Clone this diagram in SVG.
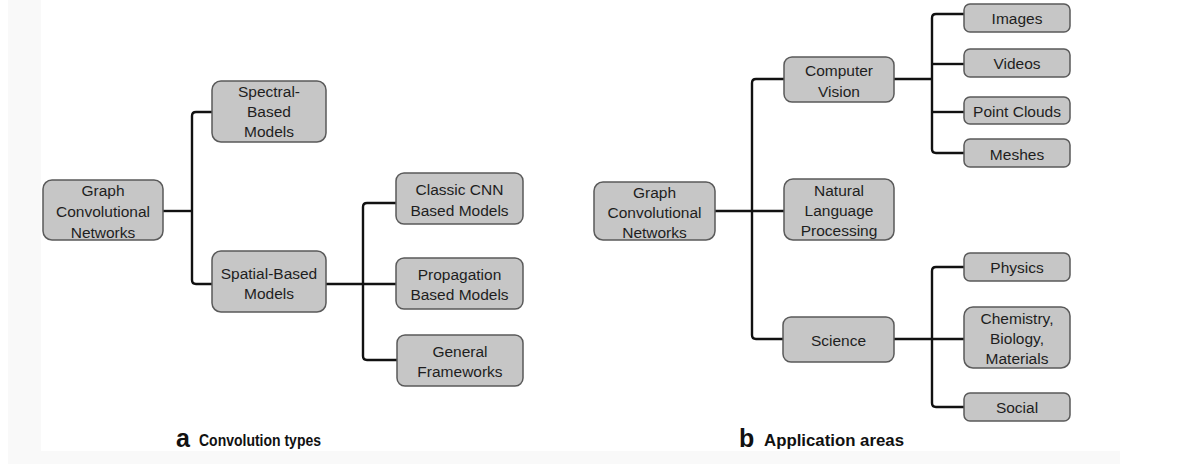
<svg xmlns="http://www.w3.org/2000/svg" width="1189" height="464" viewBox="0 0 1189 464">
  <style>
    .box { fill: #c6c6c6; stroke: #5a5a5a; stroke-width: 1.5; }
    .lbl { font-family: "Liberation Sans", Arial, sans-serif; font-size: 15.5px; fill: #1e1e1e; text-anchor: middle; }
    .wire { fill: none; stroke: #111; stroke-width: 2.4; stroke-linejoin: round; }
    .cap { font-family: "Liberation Sans", Arial, sans-serif; font-weight: bold; fill: #111; }
  </style>

  <!-- page background -->
  <rect x="0" y="0" width="1189" height="464" fill="#ffffff"/>
  <rect x="8" y="0" width="33" height="464" fill="#f9f9f9"/>
  <rect x="8" y="451" width="1112" height="13" fill="#f9f9f9"/>

  <!-- connectors -->
  <g id="connectors" class="wire">
    <!-- panel a -->
    <path d="M163,211 H192"/>
    <path d="M212,112 H196 Q192,112 192,116 V280 Q192,284 196,284 H212"/>
    <path d="M326,284 H396"/>
    <path d="M396,203 H367 Q363,203 363,207 V356 Q363,360 367,360 H397"/>
    <!-- panel b -->
    <path d="M715,211 H784"/>
    <path d="M784,79 H756 Q752,79 752,83 V335 Q752,339 756,339 H783"/>
    <path d="M894,79 H932"/>
    <path d="M964,14 H936 Q932,14 932,18 V149 Q932,153 936,153 H964"/>
    <path d="M932,64 H964"/>
    <path d="M932,112 H964"/>
    <path d="M894,339 H964"/>
    <path d="M964,267 H936 Q932,267 932,271 V403 Q932,407 936,407 H964"/>
  </g>

  <!-- panel a: convolution types -->
  <g id="a-gcn">
    <rect class="box" x="43" y="180" width="120" height="60" rx="9"/>
    <text class="lbl" x="103" y="195.5">Graph</text>
    <text class="lbl" x="103" y="216.5">Convolutional</text>
    <text class="lbl" x="103" y="237.5">Networks</text>
  </g>
  <g id="a-spectral">
    <rect class="box" x="212" y="81" width="114" height="61" rx="9"/>
    <text class="lbl" x="269" y="97">Spectral-</text>
    <text class="lbl" x="269" y="117">Based</text>
    <text class="lbl" x="269" y="137">Models</text>
  </g>
  <g id="a-spatial">
    <rect class="box" x="212" y="251" width="114" height="61" rx="9"/>
    <text class="lbl" x="269" y="278.5">Spatial-Based</text>
    <text class="lbl" x="269" y="298.5">Models</text>
  </g>
  <g id="a-classic">
    <rect class="box" x="396" y="173" width="127" height="51" rx="8"/>
    <text class="lbl" x="459.5" y="195">Classic CNN</text>
    <text class="lbl" x="459.5" y="215.5">Based Models</text>
  </g>
  <g id="a-propagation">
    <rect class="box" x="396" y="258" width="127" height="51" rx="8"/>
    <text class="lbl" x="459.5" y="280">Propagation</text>
    <text class="lbl" x="459.5" y="300">Based Models</text>
  </g>
  <g id="a-general">
    <rect class="box" x="397" y="335" width="126" height="51" rx="8"/>
    <text class="lbl" x="460" y="356.5">General</text>
    <text class="lbl" x="460" y="376.5">Frameworks</text>
  </g>

  <!-- panel b: application areas -->
  <g id="b-gcn">
    <rect class="box" x="594" y="182" width="121" height="58" rx="9"/>
    <text class="lbl" x="654.5" y="197.5">Graph</text>
    <text class="lbl" x="654.5" y="217.5">Convolutional</text>
    <text class="lbl" x="654.5" y="237.5">Networks</text>
  </g>
  <g id="b-vision">
    <rect class="box" x="784" y="57" width="110" height="45" rx="8"/>
    <text class="lbl" x="839" y="75.5">Computer</text>
    <text class="lbl" x="839" y="96.5">Vision</text>
  </g>
  <g id="b-nlp">
    <rect class="box" x="784" y="179" width="110" height="61" rx="9"/>
    <text class="lbl" x="839" y="195.5">Natural</text>
    <text class="lbl" x="839" y="215.5">Language</text>
    <text class="lbl" x="839" y="235.5">Processing</text>
  </g>
  <g id="b-science">
    <rect class="box" x="783" y="317" width="111" height="45" rx="8"/>
    <text class="lbl" x="838.5" y="345.5">Science</text>
  </g>
  <g id="b-images">
    <rect class="box" x="964" y="4" width="106" height="28" rx="6"/>
    <text class="lbl" x="1017" y="24">Images</text>
  </g>
  <g id="b-videos">
    <rect class="box" x="964" y="49" width="106" height="28" rx="6"/>
    <text class="lbl" x="1017" y="69">Videos</text>
  </g>
  <g id="b-pointclouds">
    <rect class="box" x="964" y="97" width="106" height="27" rx="6"/>
    <text class="lbl" x="1017" y="116.5">Point Clouds</text>
  </g>
  <g id="b-meshes">
    <rect class="box" x="964" y="139" width="106" height="28" rx="6"/>
    <text class="lbl" x="1017" y="159.5">Meshes</text>
  </g>
  <g id="b-physics">
    <rect class="box" x="964" y="253" width="106" height="28" rx="6"/>
    <text class="lbl" x="1017" y="273">Physics</text>
  </g>
  <g id="b-chemistry">
    <rect class="box" x="964" y="307" width="106" height="61" rx="9"/>
    <text class="lbl" x="1017" y="323.5">Chemistry,</text>
    <text class="lbl" x="1017" y="343.5">Biology,</text>
    <text class="lbl" x="1017" y="363.5">Materials</text>
  </g>
  <g id="b-social">
    <rect class="box" x="964" y="393" width="106" height="28" rx="6"/>
    <text class="lbl" x="1017" y="412.5">Social</text>
  </g>

  <!-- panel captions -->
  <g id="captions">
    <text class="cap" x="176" y="447" font-size="25">a</text>
    <text class="cap" x="199" y="446" font-size="16.5" textLength="122" lengthAdjust="spacingAndGlyphs">Convolution types</text>
    <text class="cap" x="739" y="447" font-size="25">b</text>
    <text class="cap" x="764" y="446" font-size="16.5" textLength="140" lengthAdjust="spacingAndGlyphs">Application areas</text>
  </g>
</svg>
